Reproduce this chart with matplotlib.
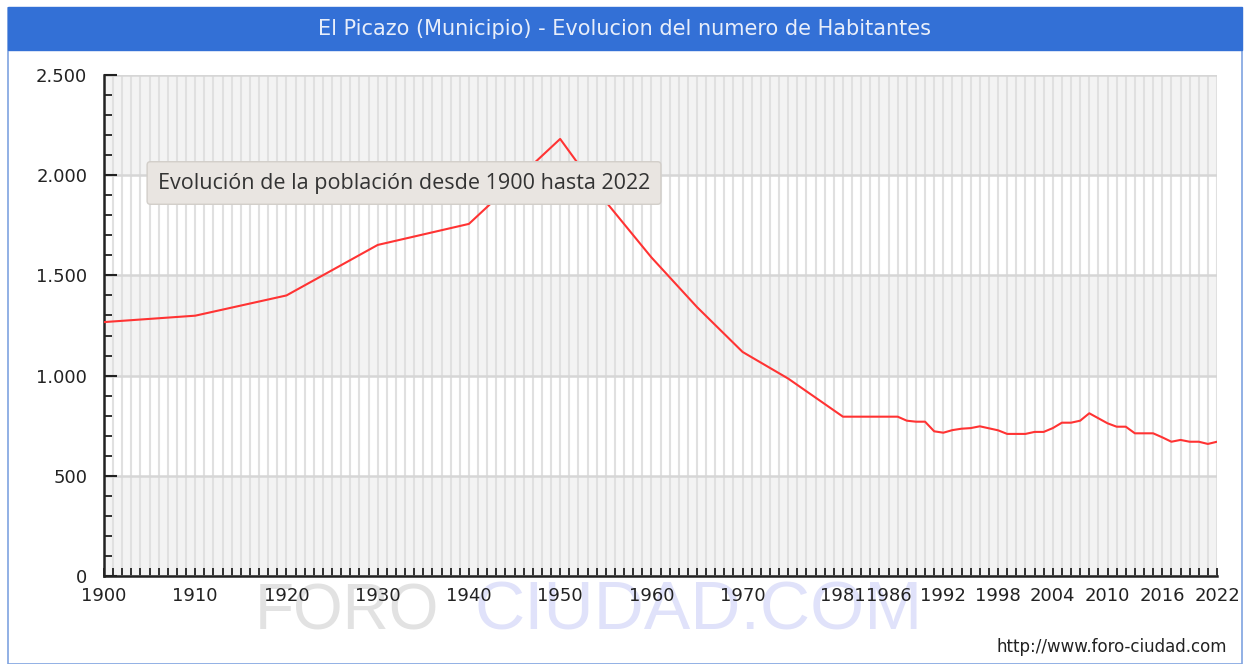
import matplotlib.pyplot as plt
from matplotlib.patches import Rectangle
from matplotlib.ticker import FuncFormatter, MultipleLocator

# datos (habitantes por año)
years = [1900, 1910, 1920, 1930, 1940, 1950, 1955, 1960, 1965, 1970, 1975,
         1981, 1982, 1983, 1984, 1985, 1986, 1987, 1988, 1989, 1990, 1991,
         1992, 1993, 1994, 1995, 1996, 1997, 1998, 1999, 2000, 2001, 2002,
         2003, 2004, 2005, 2006, 2007, 2008, 2009, 2010, 2011, 2012, 2013,
         2014, 2015, 2016, 2017, 2018, 2019, 2020, 2021, 2022]
habitantes = [1267, 1299, 1400, 1652, 1757, 2181, 1868, 1590, 1342, 1118, 985,
              795, 795, 795, 795, 795, 795, 795, 775, 770, 770, 722,
              715, 728, 735, 738, 747, 737, 727, 709, 709, 709, 719,
              719, 738, 765, 765, 775, 812, 787, 762, 745, 745, 712,
              712, 712, 692, 670, 679, 670, 670, 659, 670]
label_years = [1900, 1910, 1920, 1930, 1940, 1950, 1960, 1970,
               1981, 1986, 1992, 1998, 2004, 2010, 2016, 2022]
y_ticks = [0, 500, 1000, 1500, 2000, 2500]

W, H = 1247, 664
fig = plt.figure(figsize=(W / 100, H / 100), dpi=100)
fig.patch.set_facecolor('white')

# marco y barra de titulo
fig.patches.append(Rectangle((7.5 / W, 0), (1242 - 7.5) / W, 1 - 7.5 / H,
                             transform=fig.transFigure, facecolor='white',
                             edgecolor='#7fa3e0', lw=1.2, zorder=-3))
fig.patches.append(Rectangle((7.5 / W, 1 - 50 / H), (1242 - 7.5) / W, 42.5 / H,
                             transform=fig.transFigure, facecolor='#3370d6',
                             edgecolor='#3370d6', lw=1, zorder=-2))
fig.text(625 / W, 1 - 29 / H, 'El Picazo (Municipio) - Evolucion del numero de Habitantes',
         color='#e8eefa', fontsize=15, ha='center', va='center', family='DejaVu Sans')

# marca de agua
fig.text(255 / W, 1 - 629 / H, 'FORO', color='#e2e2e2', fontsize=46,
         family='Liberation Sans', ha='left', va='baseline', zorder=-1)
fig.text(475 / W, 1 - 629 / H, 'CIUDAD.COM', color='#e0e2fa', fontsize=50,
         family='Liberation Sans', ha='left', va='baseline', zorder=-1)

ax = fig.add_axes([104 / W, 1 - 576 / H, (1217 - 104) / W, (576 - 75) / H])
ax.set_facecolor('white')
for lo in y_ticks[:-1:2]:
    ax.axhspan(lo, lo + 500, color='#f3f3f3', lw=0, zorder=0)

ax.plot(years, habitantes, color='#ff3333', lw=1.5, zorder=3)

ax.set_xlim(1900, 2022)
ax.set_ylim(0, 2500)
ax.set_xticks(label_years)
ax.set_xticklabels([str(y) for y in label_years])
ax.xaxis.set_minor_locator(MultipleLocator(1))
ax.set_yticks(y_ticks)
ax.yaxis.set_major_formatter(FuncFormatter(lambda v, p: f'{int(v):,}'.replace(',', '.')))
ax.yaxis.set_minor_locator(MultipleLocator(100))

ax.set_axisbelow(True)
ax.grid(axis='x', which='both', color='#e0e0e0', lw=1.5, zorder=1)
ax.grid(axis='y', which='major', color='#d6d6d6', lw=1.8, zorder=1)

for s in ['top', 'right']:
    ax.spines[s].set_visible(False)
for s in ['left', 'bottom']:
    ax.spines[s].set_linewidth(1.8)
    ax.spines[s].set_color('#222222')

ax.tick_params(axis='x', which='both', direction='in', length=6, width=1.3,
               colors='#222222', labelsize=13, pad=8)
ax.tick_params(axis='y', which='major', direction='in', length=9, width=1.5,
               colors='#222222', labelsize=13, pad=12)
ax.tick_params(axis='y', which='minor', direction='in', length=6, width=1.3,
               colors='#222222')

# tooltip
fig.text(404 / W, 1 - 183 / H, 'Evolución de la población desde 1900 hasta 2022',
         fontsize=15.5, color='#333333', ha='center', va='center', family='Open Sans',
         bbox=dict(boxstyle='round,pad=0.5,rounding_size=0.15', facecolor='#e9e5e1',
                   edgecolor='#d2cec9', lw=1), zorder=5)

fig.text(1227 / W, 1 - 647 / H, 'http://www.foro-ciudad.com', fontsize=12,
         color='#222222', ha='right', va='center', family='DejaVu Sans')

fig.savefig('out.png', dpi=100)
